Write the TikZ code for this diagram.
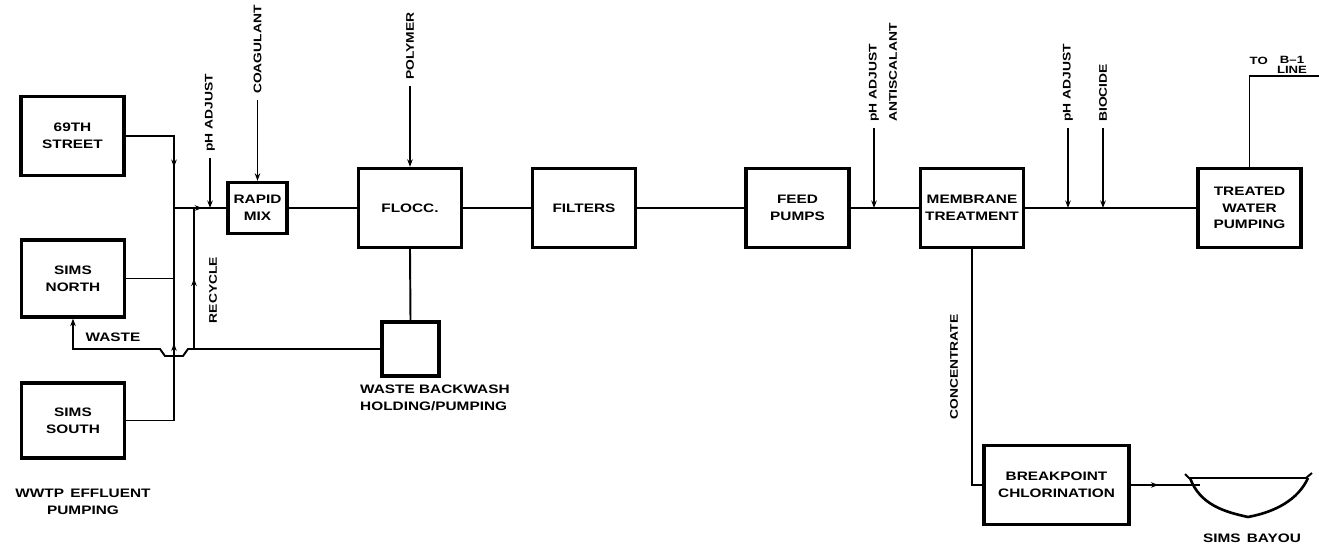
\documentclass[tikz,border=0pt]{standalone}
\usepackage{fontspec}
\newfontfamily\cadfont[FakeStretch=1.25]{Liberation Sans}
\usetikzlibrary{arrows.meta,decorations.markings,calc}

\begin{document}
\begin{tikzpicture}[
    x=0.02cm, y=-0.02cm,
    box/.style={rectangle, draw, line width=1.9pt, minimum width=2.06cm, minimum height=1.58cm, align=center, inner sep=1pt, font=\cadfont\bfseries\fontsize{7}{9.5}\selectfont},
    pipe/.style={line width=1.1pt},
    feedline/.style={line width=0.8pt, -{Stealth[length=1.5mm, width=1.1mm]}},
    tag/.style={font=\cadfont\bfseries\fontsize{6.3}{7.3}\selectfont, rotate=90, anchor=west},
    note/.style={font=\cadfont\bfseries\fontsize{7}{9.5}\selectfont, align=center},
    midarrow/.style={postaction={decorate}, decoration={markings, mark=at position #1 with {\arrow{Stealth[length=1.5mm, width=1.1mm]}}}},
]
\useasboundingbox (0,0) rectangle (1319,546);

% ====== WWTP effluent sources ======
\node[box] (s69) at (72.5,136) {69TH\\STREET};
\node[box, minimum height=1.54cm] (sN) at (73,278.5) {SIMS\\NORTH};
\node[box, minimum height=1.5cm] (sS) at (73,420.5) {SIMS\\SOUTH};
\node[note] (lWwtp) at (83,502) {WWTP\enspace EFFLUENT\\PUMPING};

% ====== Treatment train ======
\node[box, minimum width=1.18cm, minimum height=1.02cm] (rMix) at (257.5,208) {RAPID\\MIX};
\node[box] (floc) at (410,208) {FLOCC.};
\node[box] (filt) at (584,208) {FILTERS};
\node[box] (feed) at (797.5,208) {FEED\\PUMPS};
\node[box] (memb) at (972,208) {MEMBRANE\\TREATMENT};
\node[box] (twp) at (1249.5,208) {TREATED\\WATER\\PUMPING};

% ====== Waste side ======
\node[box, minimum width=1.14cm, minimum height=1.08cm] (wbh) at (410.5,349) {};
\node[note, align=left, anchor=north west] (lWbh) at (354,379) {WASTE BACKWASH\\HOLDING/PUMPING};
\node[box, minimum width=2.9cm] (bpc) at (1056.5,485) {BREAKPOINT\\CHLORINATION};

% ====== Junction points ======
\coordinate (jn) at (174,208);
\coordinate (rc) at (194,208);
\coordinate (wl) at (194,349);
\coordinate (inj1) at (210,208);
\coordinate (tob) at (1319,76);
\coordinate (bay) at (1200,485);

% ====== Collector ======
\draw[pipe, midarrow=0.66] (s69.east) -| (jn);
\draw[pipe] (sN.east) -- (sN.east -| jn);
\draw[pipe, midarrow=0.48] (sS.east) -| (jn);

% ====== Main line ======
\draw[pipe, midarrow=0.54] (jn) -- (rMix.west);
\draw[pipe] (rMix.east) -- (floc.west);
\draw[pipe] (floc.east) -- (filt.west);
\draw[pipe] (filt.east) -- (feed.west);
\draw[pipe] (feed.east) -- (memb.west);
\draw[pipe] (memb.east) -- (twp.west);
\draw[pipe] (twp.north) |- (tob);

% ====== Waste and recycle ======
\draw[pipe] (floc.south) -- (wbh.north);
\draw[pipe, -{Stealth[length=1.5mm, width=1.1mm]}] (wbh.west) -- (188,349) -- (183,356) -- (165,356) -- (160,349) -- (sN.south |- wl) -- (sN.south);
\draw[pipe, midarrow=0.5] (wl) -- (rc);
\node[note] (lWaste) at (113,337) {WASTE};
\node[tag, anchor=center] (lRec) at (213,290) {RECYCLE};

% ====== Chemical feeds ======
\node[tag] (lPh1) at (210,158) {pH ADJUST};
\draw[feedline] (lPh1.west) -- (inj1);
\node[tag] (lCoag) at (257.5,100) {COAGULANT};
\draw[feedline] (lCoag.west) -- (rMix.north);
\node[tag] (lPoly) at (410,86) {POLYMER};
\draw[feedline] (lPoly.west) -- (floc.north);
\node[tag] (lPh2) at (874,128) {pH ADJUST};
\node[tag] (lAnti) at (893,128) {ANTISCALANT};
\draw[feedline] (lPh2.west) -- (lPh2.west |- feed.east);
\node[tag] (lPh3) at (1068,128) {pH ADJUST};
\draw[feedline] (lPh3.west) -- (lPh3.west |- twp.west);
\node[tag] (lBio) at (1103,128) {BIOCIDE};
\draw[feedline] (lBio.west) -- (lBio.west |- twp.west);

% ====== Outlets ======
\node[font=\cadfont\bfseries\fontsize{6}{6}\selectfont, anchor=south east, inner sep=0.5pt] (lTo) at (1269,66) {TO};
\node[font=\cadfont\bfseries\fontsize{6}{5.8}\selectfont, align=center, anchor=south, inner sep=0.5pt] (lB1) at (1292,75) {B\textendash1\\LINE};
\draw[pipe] (memb.south) |- (bpc.west);
\node[tag, anchor=center] (lConc) at (954,367) {CONCENTRATE};
\draw[pipe, midarrow=0.4] (bpc.east) -- (bay);

% sims bayou
\draw[pipe] (1185,474) -- (1189,478) -- (1306,478) -- (1312,473);
\draw[line width=1.5pt] (1190,478) .. controls (1200,505) and (1225,512) .. (1248,517) .. controls (1275,512) and (1298,500) .. (1308,478);
\node[note] (lBay) at (1252,538) {SIMS\enspace BAYOU};

\end{tikzpicture}
\end{document}
